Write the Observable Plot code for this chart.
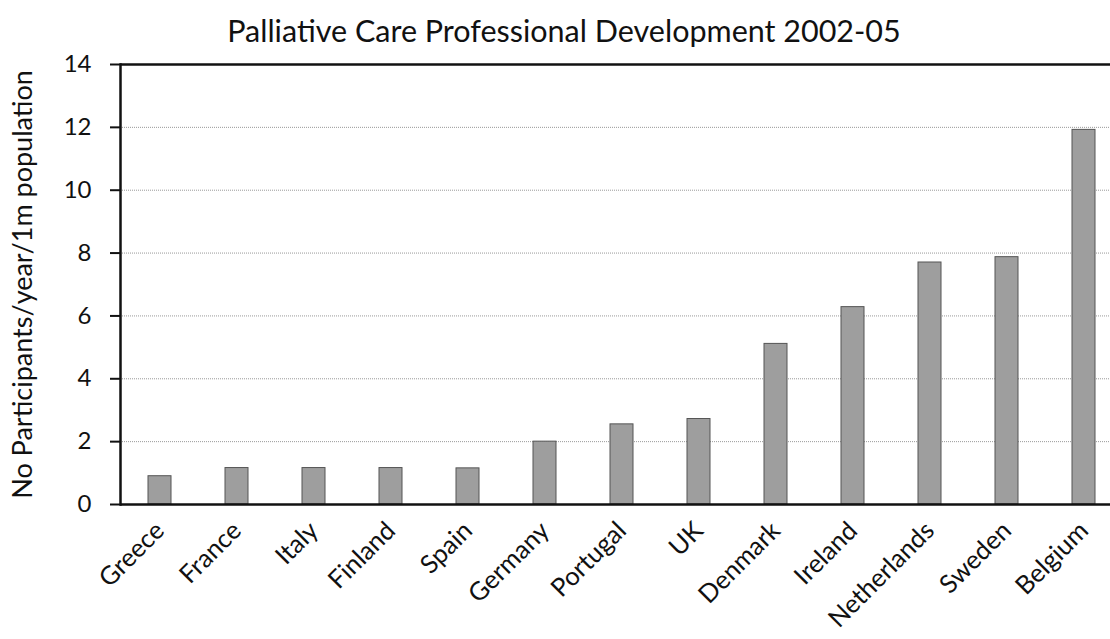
<!DOCTYPE html>
<html><head>
<meta charset="utf-8">
<script src="https://cdn.jsdelivr.net/npm/d3@7"></script>
<script src="https://cdn.jsdelivr.net/npm/@observablehq/plot@0.6"></script>
<style>
body{margin:0;background:#fff;font-family:Lato,sans-serif}
#wrap{position:relative;width:1110px;height:639px;overflow:hidden}
#title{position:absolute;left:0;width:1128px;top:12px;text-align:center;font-size:30.5px;color:#111}
</style></head><body>
<div id="wrap"><div id="title">Palliative Care Professional Development 2002-05</div></div>
<script>
const countries = ["Greece","France","Italy","Finland","Spain","Germany","Portugal","UK","Denmark","Ireland","Netherlands","Sweden","Belgium"];
const values = [0.9, 1.16, 1.16, 1.16, 1.15, 2.0, 2.55, 2.72, 5.11, 6.28, 7.7, 7.87, 11.92];
const yTicks = [0, 2, 4, 6, 8, 10, 12, 14];
const yLabel = "No Participants/year/1m population";
const data = countries.map((c, i) => ({country: c, value: values[i]}));
const chart = Plot.plot({
  width: 1110, height: 639,
  marginLeft: 120, marginRight: 0, marginTop: 64, marginBottom: 135,
  style: {fontFamily: "Lato, sans-serif", fontSize: "20px", background: "#fff", color: "#111", overflow: "hidden"},
  x: {domain: countries, range: [120, 1124], paddingInner: 0.7, paddingOuter: 0.35, align: 0.5, label: null},
  y: {domain: [0, 14], label: null},
  marks: [
    Plot.gridY(yTicks.filter(t => t > 0 && t < 14), {stroke: "#999", strokeOpacity: 1, strokeWidth: 1, strokeDasharray: "1,1"}),
    Plot.barY(data, {x: "country", y: "value", fill: "#9e9e9e", stroke: "#555", strokeWidth: 1}),
    Plot.axisY({ticks: yTicks, tickSize: 10, tickPadding: 19, fontSize: 24, strokeWidth: 2, label: null}),
    Plot.axisY({ticks: [], tickSize: 0, label: yLabel, labelAnchor: "center", labelArrow: "none", labelOffset: 108, fontSize: 27}),
    Plot.axisX({tickSize: 0, tickRotate: -45, fontSize: 25.5, tickPadding: 22, label: null}),
    Plot.ruleY([0], {strokeWidth: 2.5}),
    Plot.ruleY([14], {strokeWidth: 2.5}),
    Plot.frame({anchor: "left", strokeWidth: 2.5})
  ]
});
document.getElementById("wrap").prepend(chart);
</script>
</body></html>
